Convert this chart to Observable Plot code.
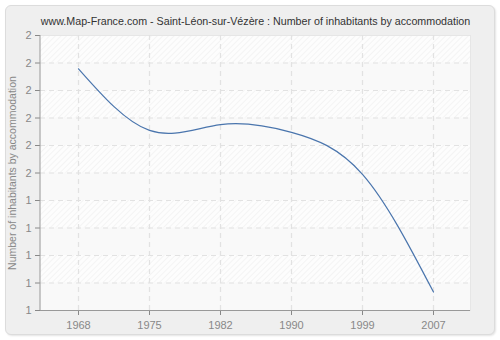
<!DOCTYPE html>
<html>
<head>
<meta charset="utf-8">
<script src="https://cdn.jsdelivr.net/npm/d3@7"></script>
<script src="https://cdn.jsdelivr.net/npm/@observablehq/plot@0.6"></script>
<style>
  html, body { margin: 0; padding: 0; background: #fff; }
  #wrap { position: relative; width: 500px; height: 340px; }
  #panel { position: absolute; left: 5px; top: 5px; width: 488px; height: 328px;
    background: #efefef; border: 1px solid #dcdcdc; border-radius: 6px; box-shadow: 1px 1px 2px #e4e4e4; }
  #chart { position: absolute; left: 0; top: 0; }
</style>
</head>
<body>
<div id="wrap"><div id="panel"></div><div id="chart"></div></div>
<script>
const title = "www.Map-France.com - Saint-Léon-sur-Vézère : Number of inhabitants by accommodation";
const yLabel = "Number of inhabitants by accommodation";
const years = ["1968", "1975", "1982", "1990", "1999", "2007"];
const values = [1.879, 1.655, 1.676, 1.648, 1.495, 1.067];
const yTicks = [1.0, 1.1, 1.2, 1.3, 1.4, 1.5, 1.6, 1.7, 1.8, 1.9, 2.0];

const data = years.map((y, i) => ({year: y, value: values[i]}));
const bands = yTicks.slice(0, -1).map((t, i) => ({y1: t, y2: yTicks[i + 1], hatched: (yTicks.length - 2 - i) % 2 === 0}));

const font = "'Liberation Sans', Arial, sans-serif";

const plot = Plot.plot({
  width: 500,
  height: 340,
  marginLeft: 40,
  marginRight: 30,
  marginTop: 35,
  marginBottom: 30,
  style: {background: "transparent", fontFamily: font, fontSize: "11px", color: "#888"},
  x: {type: "point", domain: years, padding: 0.5, label: null},
  y: {domain: [1, 2], label: null},
  marks: [
    Plot.frame({fill: "#f9f9f9", stroke: null}),
    Plot.rect(bands.filter(d => d.hatched), {y1: "y1", y2: "y2", fill: "url(#hatch)"}),
    Plot.frame({stroke: "#e6e6e6", anchor: "top"}),
    Plot.frame({stroke: "#e6e6e6", anchor: "right"}),
    Plot.gridY(yTicks.slice(0, -1), {stroke: "#e2e2e2", strokeOpacity: 1, strokeDasharray: "5,4", strokeWidth: 1.2}),
    Plot.gridX(years, {stroke: "#e2e2e2", strokeOpacity: 1, strokeDasharray: "5,4", strokeWidth: 1.2}),
    Plot.axisY(yTicks, {tickFormat: d => d3.format(".0f")(d), tickSize: 5, tickPadding: 4, stroke: "#888", fill: "#888", fontSize: 11}),
    Plot.axisX(years, {tickSize: 5, tickPadding: 6, stroke: "#888", fill: "#888", fontSize: 11}),
    Plot.ruleY([1], {stroke: "#999"}),
    Plot.line(data, {x: "year", y: "value", curve: "natural", stroke: "#4a75ad", strokeWidth: 1.2}),
    Plot.text([title], {frameAnchor: "top", dy: -18, fontSize: 10.7, fill: "#333", fontFamily: font}),
    Plot.text([yLabel], {frameAnchor: "left", dx: -28, rotate: -90, textAnchor: "middle", fontSize: 10.5, fill: "#888", fontFamily: font})
  ]
});

const svg = d3.select(plot);
const defs = svg.insert("defs", ":first-child");
const pat = defs.append("pattern").attr("id", "hatch").attr("patternUnits", "userSpaceOnUse")
  .attr("width", 4).attr("height", 4).attr("patternTransform", "rotate(45)");
pat.append("rect").attr("width", 4).attr("height", 4).attr("fill", "#fdfdfd");
pat.append("line").attr("x1", 0).attr("y1", 0).attr("x2", 0).attr("y2", 4).attr("stroke", "#eeeeee").attr("stroke-width", 1.2);

// left axis line
const sy = plot.scale("y");
svg.append("line").attr("x1", 40).attr("x2", 40).attr("y1", sy.apply(2)).attr("y2", sy.apply(1)).attr("stroke", "#999");

document.getElementById("chart").appendChild(plot);
</script>
</body>
</html>
